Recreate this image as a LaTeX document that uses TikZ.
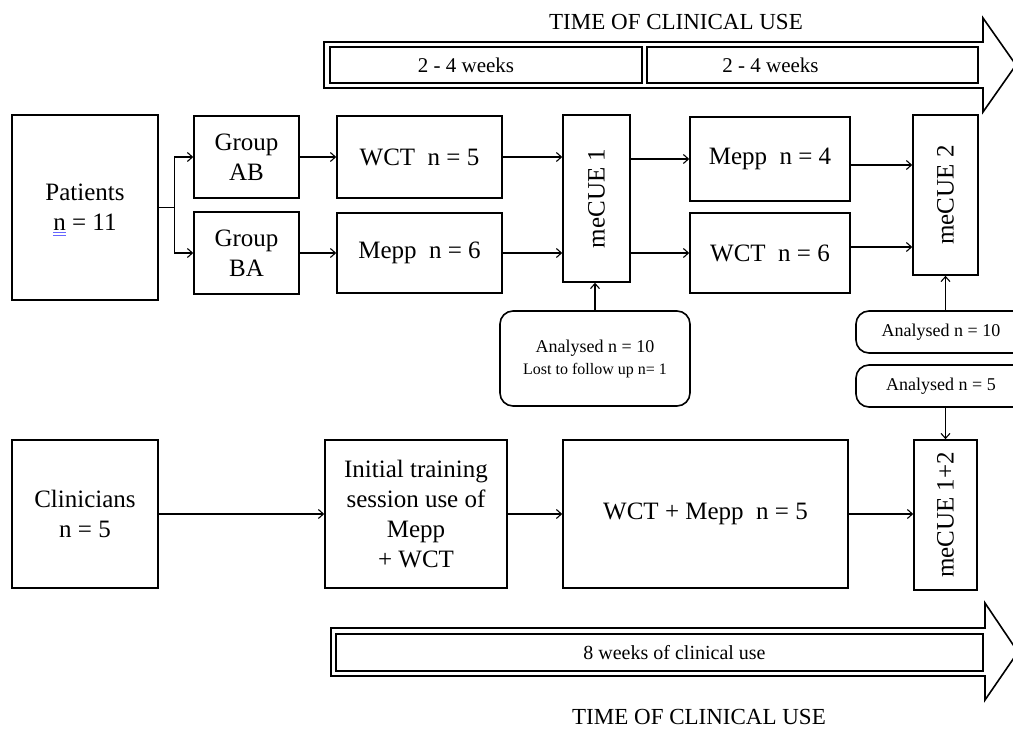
\documentclass[tikz,border=0pt]{standalone}
\usepackage{fontspec}
\setmainfont{Liberation Serif}
\usetikzlibrary{arrows.meta}

\begin{document}
\begin{tikzpicture}[x=1pt, y=-1pt,
	box/.style={draw, line width=1.6pt, align=center, inner sep=0pt, font=\fontsize{25}{30}\selectfont},
	rbox/.style={box, rounded corners=13pt, font=\fontsize{18}{22}\selectfont},
	weekbox/.style={draw, line width=1.6pt, inner sep=0pt},
	timearrow/.style={draw, line width=1.6pt},
	link/.style={line width=1.1pt, -{Straight Barb[length=5pt, width=9pt]}}]
	\useasboundingbox[fill=white] (0,0) rectangle (1013,730);

	% time of clinical use, top
	\node[font=\fontsize{23}{27}\selectfont] (toptitle) at (676,22) {TIME OF CLINICAL USE};
	\draw[timearrow] (324,42) -- (983,42) -- (983,18) -- (1016,65) -- (983,112) -- (983,88) -- (324,88) -- cycle;
	\node[weekbox, minimum width=312pt, minimum height=36pt] (weeka) at (486,65) {};
	\node[weekbox, minimum width=331pt, minimum height=36pt] (weekb) at (812.5,65) {};
	\node[font=\fontsize{21}{25}\selectfont] (weekatext) at ([xshift=-20pt]weeka) {2 - 4 weeks};
	\node[font=\fontsize{21}{25}\selectfont] (weekbtext) at ([xshift=-42pt]weekb) {2 - 4 weeks};

	% patients
	\node[box, minimum width=146pt, minimum height=185pt] (patients) at (85,207.5) {Patients\\n = 11};
	\draw[blue!60, line width=0.6pt] (53,232) -- ++(13,0) (53,235) -- ++(13,0);
	\node[box, minimum width=105pt, minimum height=82pt] (groupab) at (246.5,157) {Group\\AB};
	\node[box, minimum width=105pt, minimum height=82pt] (groupba) at (246.5,253) {Group\\BA};
	\node[box, minimum width=165pt, minimum height=82pt] (wcta) at (419.5,157) {WCT\ \ n = 5};
	\node[box, minimum width=165pt, minimum height=80pt] (meppa) at (419.5,253) {Mepp\ \ n = 6};
	\node[box, minimum width=67pt, minimum height=167pt] (mecuea) at (596.5,198.5) {\rotatebox{90}{meCUE 1}};
	\node[box, minimum width=160pt, minimum height=84pt] (meppb) at (770,159) {Mepp\ \ n = 4};
	\node[box, minimum width=160pt, minimum height=80pt] (wctb) at (770,253) {WCT\ \ n = 6};
	\node[box, minimum width=65pt, minimum height=160pt] (mecueb) at (945.5,195) {\rotatebox{90}{meCUE 2}};

	\node[rbox, minimum width=190pt, minimum height=95pt] (lostbox) at (595,358.5) {Analysed n = 10\\{\fontsize{16}{20}\selectfont Lost to follow up n= 1}};
	\node[rbox, minimum width=170pt, minimum height=42pt] (anaten) at (941,332) {Analysed n = 10};
	\node[rbox, minimum width=170pt, minimum height=42pt] (anafive) at (941,386) {Analysed n = 5};

	\draw[link] (patients.east) -- ++(16,0) |- (groupab.west);
	\draw[link] (patients.east) -- ++(16,0) |- (groupba.west);
	\foreach \a/\b in {groupab/wcta, groupba/meppa}
	{
		\draw[link] (\a) -- (\b);
	}
	\foreach \a in {wcta, meppa}
	{
		\draw[link] (\a.east) -- (\a.east -| mecuea.west);
	}
	\foreach \b in {meppb, wctb}
	{
		\draw[link] (mecuea.east |- \b.west) -- (\b.west);
	}
	\draw[link] (meppb.east) ++(0,6) -- ([yshift=-6pt]meppb.east -| mecueb.west);
	\draw[link] (wctb.east) ++(0,-6) -- ([yshift=6pt]wctb.east -| mecueb.west);
	\draw[link] (lostbox.north) -- (lostbox.north |- mecuea.south);
	\draw[link] (mecueb.south |- anaten.north) -- (mecueb.south);

	% clinicians
	\node[box, minimum width=146pt, minimum height=148pt] (clinicians) at (85,514) {Clinicians\\n = 5};
	\node[box, minimum width=182pt, minimum height=148pt] (training) at (416,514) {Initial training\\session use of\\Mepp\\+ WCT};
	\node[box, minimum width=285pt, minimum height=148pt] (wctmepp) at (705.5,514) {WCT + Mepp\ \ n = 5};
	\node[box, minimum width=63pt, minimum height=150pt] (mecuec) at (945.5,515) {\rotatebox{90}{meCUE 1+2}};

	\draw[link] (clinicians) -- (training);
	\draw[link] (training) -- (wctmepp);
	\draw[link] (wctmepp) -- (wctmepp -| mecuec.west);
	\draw[link] (mecuec.north |- anafive.south) -- (mecuec.north);

	% time of clinical use, bottom
	\draw[timearrow] (331,628) -- (985,628) -- (985,603) -- (1018,652) -- (985,700) -- (985,676) -- (331,676) -- cycle;
	\node[weekbox, minimum width=647pt, minimum height=37pt] (eightweeks) at (659.5,652.5) {};
	\node[font=\fontsize{20}{24}\selectfont] (eightweekstext) at ([xshift=15pt]eightweeks) {8 weeks of clinical use};
	\node[font=\fontsize{23}{27}\selectfont] (bottomtitle) at (699,717) {TIME OF CLINICAL USE};
\end{tikzpicture}
\end{document}
